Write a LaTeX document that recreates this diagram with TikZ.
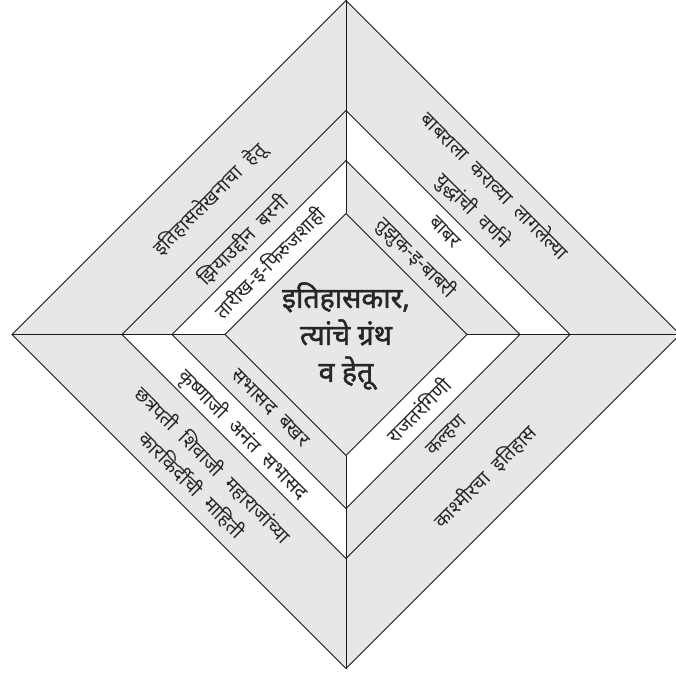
\documentclass[tikz,border=0pt]{standalone}
\usepackage{fontspec}
\newfontfamily\dev[Script=Devanagari]{Noto Sans}
\newfontfamily\devbold[Script=Devanagari,FakeBold=1.6]{Noto Sans}
\newcommand\lblfont{\dev\fontsize{19.5}{23}\selectfont\spaceskip=0.55em plus 0.1em\relax}
\definecolor{band}{HTML}{E6E7E8}
\begin{document}
\begin{tikzpicture}[x=1pt,y=1pt,
  lbl/.style={font=\lblfont, inner sep=0pt, text=black!85},
  ctr/.style={font=\devbold\fontsize{28.5}{37}\selectfont, inner sep=0pt, align=center, text=black!85},
  edgeline/.style={draw=black!90, line width=0.9pt, line join=miter}]
\useasboundingbox (-346,-342.5) rectangle (330,334.5);
\def\rzero{121}\def\rone{174}\def\rtwo{224}\def\rthree{334}
% vertices
\foreach \n/\r in {0/\rzero,1/\rone,2/\rtwo,3/\rthree}{
  \coordinate (T\n) at (0,\r);
  \coordinate (B\n) at (0,-\r);
  \coordinate (L\n) at (-\r,0);
  \coordinate (R\n) at (\r,0);
}
% fills
\fill[band] (T3) -- (R3) -- (B3) -- (L3) -- cycle;
\fill[white] (L1) -- (T1) -- (T0) -- (L0) -- cycle;
\fill[white] (T2) -- (R2) -- (R1) -- (T1) -- cycle;
\fill[white] (L2) -- (B2) -- (B1) -- (L1) -- cycle;
\fill[white] (B1) -- (R1) -- (R0) -- (B0) -- cycle;
% outlines
\foreach \n in {0,1,2,3}{
  \draw[edgeline] (T\n) -- (R\n) -- (B\n) -- (L\n) -- cycle;
}
\draw[edgeline] (T3) -- (T0);
\draw[edgeline] (B0) -- (B3);
\draw[edgeline] (L3) -- (L0);
\draw[edgeline] (R0) -- (R3);
% centre
\node[ctr] (centre) at (0,-1.5) {इतिहासकार,\\त्यांचे ग्रंथ\\व हेतू};
% top-left
\node[lbl, rotate=45] (tl3) at (-136,134.5) {इतिहासलेखनाचा हेतू};
\node[lbl, rotate=45] (tl2) at (-103,94.5) {झियाउद्दीन बरनी};
\node[lbl, rotate=45] (tl1) at (-76,71.5) {तारीख-इ-फिरुजशाही};
% top-right
\node[lbl, rotate=-45] (tr3a) at (150,149.5) {बाबराला कराव्या लागलेल्या};
\node[lbl, rotate=-45] (tr3b) at (126.5,123.8) {युद्धांची वर्णने};
\node[lbl, rotate=-45] (tr2) at (99,102.5) {बाबर};
\node[lbl, rotate=-45] (tr1) at (70,76.5) {तुझुक-इ-बाबरी};
% bottom-left
\node[lbl, rotate=-45] (bl1) at (-76,-73.5) {सभासद बखर};
\node[lbl, rotate=-45] (bl2) at (-103,-100.5) {कृष्णाजी अनंत सभासद};
\node[lbl, rotate=-45] (bl3a) at (-133,-130.5) {छत्रपती शिवाजी महाराजांच्या};
\node[lbl, rotate=-45] (bl3b) at (-154,-150.5) {कारकिर्दीची माहिती};
% bottom-right
\node[lbl, rotate=45] (br1) at (72,-75.5) {राजतरंगिणी};
\node[lbl, rotate=45] (br2) at (101,-101.5) {कल्हण};
\node[lbl, rotate=45] (br3) at (139,-142.5) {काश्मीरचा इतिहास};
\end{tikzpicture}
\end{document}
